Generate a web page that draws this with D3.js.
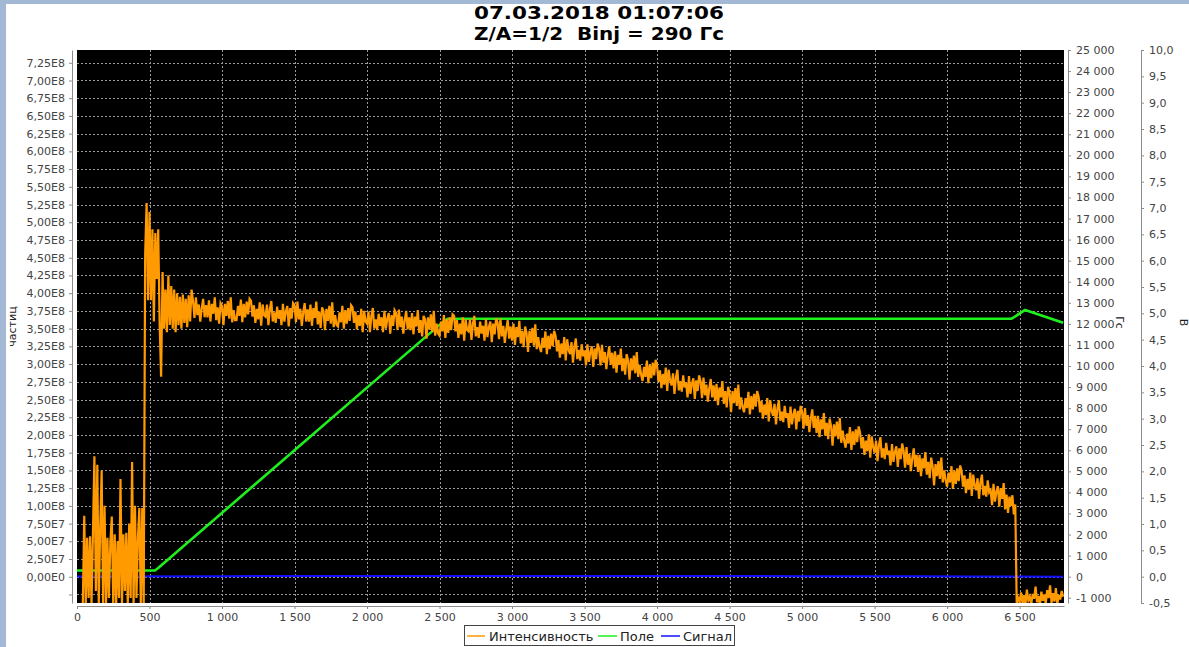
<!DOCTYPE html>
<html>
<head>
<meta charset="utf-8">
<script src="https://cdn.jsdelivr.net/npm/d3@7"></script>
<style>
  html, body { margin: 0; padding: 0; background: #fff; }
  svg { display: block; }
  text { font-family: "DejaVu Sans", sans-serif; }
</style>
</head>
<body>
<svg id="chart" width="1189" height="647"></svg>
<script>
// ---- Chart text ----
const titleLines = ["07.03.2018 01:07:06", "Z/A=1/2  Binj = 290 Гс"];
const seriesNames = ["Интенсивность", "Поле", "Сигнал"];
const seriesColors = ["#ff9a00", "#1ef01e", "#1010ff"];
const axisTitles = ["частиц", "Гс", "В"];

// ---- Ticks ----
const xTicks = [0, 500, 1000, 1500, 2000, 2500, 3000, 3500, 4000, 4500, 5000, 5500, 6000, 6500];
const xTickLabels = ["0", "500", "1 000", "1 500", "2 000", "2 500", "3 000", "3 500", "4 000", "4 500", "5 000", "5 500", "6 000", "6 500"];

// particle count ticks, in units of 1E8
const countTicks = [-0.25, 0, 0.25, 0.5, 0.75, 1, 1.25, 1.5, 1.75, 2, 2.25, 2.5, 2.75, 3, 3.25, 3.5, 3.75, 4, 4.25, 4.5, 4.75, 5, 5.25, 5.5, 5.75, 6, 6.25, 6.5, 6.75, 7, 7.25];
const countTickLabels = ["", "0,00E0", "2,50E7", "5,00E7", "7,50E7", "1,00E8", "1,25E8", "1,50E8", "1,75E8", "2,00E8", "2,25E8", "2,50E8", "2,75E8", "3,00E8", "3,25E8", "3,50E8", "3,75E8", "4,00E8", "4,25E8", "4,50E8", "4,75E8", "5,00E8", "5,25E8", "5,50E8", "5,75E8", "6,00E8", "6,25E8", "6,50E8", "6,75E8", "7,00E8", "7,25E8"];

const fieldTicks = [-1000, 0, 1000, 2000, 3000, 4000, 5000, 6000, 7000, 8000, 9000, 10000, 11000, 12000, 13000, 14000, 15000, 16000, 17000, 18000, 19000, 20000, 21000, 22000, 23000, 24000, 25000];
const fieldTickLabels = ["-1 000", "0", "1 000", "2 000", "3 000", "4 000", "5 000", "6 000", "7 000", "8 000", "9 000", "10 000", "11 000", "12 000", "13 000", "14 000", "15 000", "16 000", "17 000", "18 000", "19 000", "20 000", "21 000", "22 000", "23 000", "24 000", "25 000"];

const signalTicks = [-0.5, 0, 0.5, 1, 1.5, 2, 2.5, 3, 3.5, 4, 4.5, 5, 5.5, 6, 6.5, 7, 7.5, 8, 8.5, 9, 9.5, 10];
const signalTickLabels = ["-0,5", "0,0", "0,5", "1,0", "1,5", "2,0", "2,5", "3,0", "3,5", "4,0", "4,5", "5,0", "5,5", "6,0", "6,5", "7,0", "7,5", "8,0", "8,5", "9,0", "9,5", "10,0"];

// ---- Series ----
// Intensity (units of 1E8 particles), one sample every 10 time units starting at 0
const intensityStep = 10;
const intensity = [
  null, null, null, null, -0.4, 0.86, -0.4, 0.55, -0.3, 0.57,
  -0.4, 0.62, 1.7, -0.2, 1.58, -0.4, 0.7, 1.5, -0.4, 1.0,
  -0.4, 0.55, -0.3, 0.48, 0.85, -0.4, 0.6, -0.4, 0.5, -0.3,
  1.38, -0.4, 0.6, -0.2, 0.62, -0.4, 0.75, -0.3, 1.62, -0.4,
  1.0, -0.3, 0.55, 0.97, -0.4, 0.97, -0.4, 4.55, 5.27, 3.9,
  5.15, 3.9, 4.9, 3.6, 4.85, 4.2, 4.9, 3.55, 2.82, 4.3,
  3.5, 4.05, 3.45, 4.25, 3.55, 4.1, 3.5, 4.05, 3.45, 4.0,
  3.55, 3.95, 3.5, 3.98, 3.58, 3.92, 3.52, 3.97, 3.6, 4.05,
  3.89, 3.65, 3.94, 3.69, 3.84, 3.60, 3.79, 3.92, 3.66, 3.83,
  3.66, 3.90, 3.60, 3.85, 3.71, 3.94, 3.62, 3.80, 3.57, 3.86,
  3.82, 3.55, 3.85, 3.68, 3.89, 3.64, 3.94, 3.59, 3.76, 3.62,
  3.62, 3.82, 3.68, 3.91, 3.59, 3.85, 3.66, 3.88, 3.70, 3.92,
  3.89, 3.67, 3.83, 3.58, 3.78, 3.63, 3.87, 3.54, 3.84, 3.69,
  3.67, 3.84, 3.55, 3.78, 3.89, 3.60, 3.73, 3.58, 3.81, 3.64,
  3.76, 3.55, 3.85, 3.60, 3.74, 3.82, 3.53, 3.79, 3.64, 3.86,
  3.83, 3.59, 3.88, 3.63, 3.78, 3.54, 3.73, 3.86, 3.60, 3.77,
  3.60, 3.84, 3.54, 3.79, 3.65, 3.88, 3.56, 3.74, 3.51, 3.80,
  3.75, 3.48, 3.78, 3.61, 3.82, 3.57, 3.87, 3.52, 3.69, 3.55,
  3.53, 3.73, 3.59, 3.82, 3.50, 3.76, 3.57, 3.79, 3.61, 3.83,
  3.80, 3.58, 3.74, 3.49, 3.69, 3.54, 3.78, 3.45, 3.75, 3.60,
  3.57, 3.74, 3.45, 3.68, 3.79, 3.50, 3.63, 3.48, 3.71, 3.54,
  3.66, 3.45, 3.75, 3.50, 3.64, 3.72, 3.43, 3.69, 3.54, 3.76,
  3.72, 3.48, 3.77, 3.52, 3.67, 3.43, 3.62, 3.75, 3.49, 3.66,
  3.48, 3.72, 3.42, 3.67, 3.53, 3.76, 3.44, 3.62, 3.39, 3.68,
  3.63, 3.36, 3.66, 3.49, 3.70, 3.45, 3.75, 3.40, 3.57, 3.43,
  3.40, 3.60, 3.46, 3.69, 3.37, 3.63, 3.44, 3.66, 3.48, 3.70,
  3.68, 3.46, 3.62, 3.37, 3.57, 3.42, 3.66, 3.33, 3.63, 3.48,
  3.46, 3.63, 3.34, 3.57, 3.68, 3.39, 3.52, 3.37, 3.60, 3.43,
  3.54, 3.33, 3.63, 3.38, 3.52, 3.60, 3.31, 3.57, 3.42, 3.64,
  3.59, 3.35, 3.64, 3.39, 3.54, 3.30, 3.49, 3.62, 3.36, 3.53,
  3.33, 3.57, 3.27, 3.52, 3.38, 3.61, 3.29, 3.47, 3.24, 3.53,
  3.44, 3.17, 3.47, 3.30, 3.51, 3.26, 3.56, 3.21, 3.38, 3.24,
  3.17, 3.37, 3.23, 3.46, 3.14, 3.40, 3.21, 3.43, 3.25, 3.47,
  3.40, 3.18, 3.34, 3.09, 3.29, 3.14, 3.38, 3.05, 3.35, 3.20,
  3.14, 3.31, 3.02, 3.25, 3.36, 3.07, 3.20, 3.05, 3.28, 3.11,
  3.19, 2.98, 3.28, 3.03, 3.17, 3.25, 2.96, 3.22, 3.07, 3.29,
  3.22, 2.98, 3.27, 3.02, 3.17, 2.93, 3.12, 3.25, 2.99, 3.16,
  2.94, 3.18, 2.88, 3.13, 2.99, 3.22, 2.90, 3.08, 2.85, 3.14,
  3.05, 2.78, 3.08, 2.91, 3.12, 2.87, 3.17, 2.82, 2.99, 2.85,
  2.76, 2.96, 2.82, 3.05, 2.73, 2.99, 2.80, 3.02, 2.84, 3.06,
  2.97, 2.75, 2.91, 2.66, 2.86, 2.71, 2.95, 2.62, 2.92, 2.77,
  2.70, 2.87, 2.58, 2.81, 2.92, 2.63, 2.76, 2.61, 2.84, 2.67,
  2.74, 2.53, 2.83, 2.58, 2.72, 2.80, 2.51, 2.77, 2.62, 2.84,
  2.76, 2.52, 2.81, 2.56, 2.71, 2.47, 2.66, 2.79, 2.53, 2.70,
  2.48, 2.72, 2.42, 2.67, 2.53, 2.76, 2.44, 2.62, 2.39, 2.68,
  2.59, 2.32, 2.62, 2.45, 2.66, 2.41, 2.71, 2.36, 2.53, 2.39,
  2.32, 2.52, 2.38, 2.61, 2.29, 2.55, 2.36, 2.58, 2.40, 2.62,
  2.54, 2.32, 2.48, 2.23, 2.43, 2.28, 2.52, 2.19, 2.49, 2.34,
  2.27, 2.44, 2.15, 2.38, 2.49, 2.20, 2.33, 2.18, 2.41, 2.24,
  2.31, 2.10, 2.40, 2.15, 2.29, 2.37, 2.08, 2.34, 2.19, 2.41,
  2.33, 2.09, 2.38, 2.13, 2.28, 2.04, 2.23, 2.36, 2.10, 2.27,
  2.03, 2.27, 1.97, 2.22, 2.08, 2.31, 1.99, 2.17, 1.94, 2.23,
  2.12, 1.85, 2.15, 1.98, 2.19, 1.94, 2.24, 1.89, 2.06, 1.92,
  1.82, 2.02, 1.88, 2.11, 1.79, 2.05, 1.86, 2.08, 1.90, 2.12,
  2.03, 1.81, 1.97, 1.72, 1.92, 1.77, 2.01, 1.68, 1.98, 1.83,
  1.75, 1.92, 1.63, 1.86, 1.97, 1.68, 1.81, 1.66, 1.89, 1.72,
  1.78, 1.57, 1.87, 1.62, 1.76, 1.84, 1.55, 1.81, 1.66, 1.88,
  1.78, 1.54, 1.83, 1.58, 1.73, 1.49, 1.68, 1.81, 1.55, 1.72,
  1.48, 1.72, 1.42, 1.67, 1.53, 1.76, 1.44, 1.62, 1.39, 1.68,
  1.56, 1.29, 1.59, 1.42, 1.63, 1.38, 1.68, 1.33, 1.50, 1.36,
  1.27, 1.47, 1.33, 1.56, 1.24, 1.50, 1.31, 1.53, 1.35, 1.57,
  1.49, 1.27, 1.43, 1.18, 1.38, 1.23, 1.47, 1.14, 1.44, 1.29,
  1.22, 1.39, 1.10, 1.33, 1.44, 1.15, 1.28, 1.13, 1.36, 1.19,
  1.22, 1.01, 1.31, 1.06, 1.20, 1.28, 0.99, 1.25, 1.10, 1.32,
  0.95, 1.16, 0.90, 1.13, 1.00, 1.15, 0.88, 1.02, -0.40, -0.30,
  -0.35, -0.22, -0.38, -0.26, -0.40, -0.18, -0.33, -0.28, -0.39, -0.24,
  -0.31, -0.14, -0.36, -0.27, -0.40, -0.21, -0.34, -0.25, -0.38, -0.19,
  -0.30, -0.12, -0.37, -0.23, -0.35, -0.16, -0.39, -0.26, -0.32, -0.20,
  -0.28
];
const intensityUnit = 1e8;

// Magnetic field, Гс
const fieldTime = [0, 520, 537, 560, 2530, 2556, 6440, 6455, 6538, 6800];
const fieldValue = [290, 290, 296, 410, 12130, 12240, 12240, 12290, 12660, 12050];

// Signal, В
const signalTime = [0, 1000, 2000, 3000, 4000, 5000, 5800, 6200, 6800];
const signalValue = [0.005, 0.01, 0.012, 0.012, 0.012, 0.01, 0.008, 0.003, 0.0];

// ---- Layout ----
const W = 1189, H = 647;
const plot = { left: 77, top: 50, right: 1064, bottom: 603 };
const leftAxisX = 72, bottomAxisY = 606, fieldAxisX = 1068, signalAxisX = 1141;

const svg = d3.select("#chart");

// window frame
svg.append("rect").attr("width", W).attr("height", H).attr("fill", "#ffffff");
svg.append("rect").attr("x", 0).attr("y", 0).attr("width", W).attr("height", 4).attr("fill", "#a3b8d5");
svg.append("rect").attr("x", 0).attr("y", 0).attr("width", 6).attr("height", H).attr("fill", "#a3b8d5");

// ---- Scales ----
const x = d3.scaleLinear().domain([0, 6806]).range([plot.left, plot.right]);
const yCount = d3.scaleLinear().domain([-0.37e8, 7.43e8]).range([plot.bottom, plot.top]);
const yField = d3.scaleLinear().domain([-1250, 25000]).range([plot.bottom, plot.top]);
const ySignal = d3.scaleLinear().domain([-0.5, 10]).range([plot.bottom, plot.top]);

// plot background
svg.append("rect")
  .attr("x", plot.left).attr("y", plot.top)
  .attr("width", plot.right - plot.left).attr("height", plot.bottom - plot.top)
  .attr("fill", "#000000");

svg.append("clipPath").attr("id", "plotClip")
  .append("rect")
  .attr("x", plot.left).attr("y", plot.top)
  .attr("width", plot.right - plot.left).attr("height", plot.bottom - plot.top);

// dashed grid
const grid = svg.append("g").attr("stroke", "#9a9a9a").attr("stroke-width", 1).attr("stroke-dasharray", "2,2");
grid.selectAll("line.h").data(countTicks).join("line").attr("class", "h")
  .attr("x1", plot.left).attr("x2", plot.right)
  .attr("y1", d => Math.round(yCount(d * intensityUnit)) + 0.5)
  .attr("y2", d => Math.round(yCount(d * intensityUnit)) + 0.5);
grid.selectAll("line.v").data(xTicks.filter(d => d > 0)).join("line").attr("class", "v")
  .attr("y1", plot.top).attr("y2", plot.bottom)
  .attr("x1", d => Math.round(x(d)) + 0.5)
  .attr("x2", d => Math.round(x(d)) + 0.5);

// ---- Series ----
const series = svg.append("g").attr("clip-path", "url(#plotClip)");

const fieldPts = fieldTime.map((t, i) => [t, fieldValue[i]]);
series.append("path").datum(fieldPts)
  .attr("fill", "none").attr("stroke", seriesColors[1]).attr("stroke-width", 2.6)
  .attr("stroke-linejoin", "round")
  .attr("d", d3.line().x(d => x(d[0])).y(d => yField(d[1])));

const signalPts = signalTime.map((t, i) => [t, signalValue[i]]);
series.append("path").datum(signalPts)
  .attr("fill", "none").attr("stroke", seriesColors[2]).attr("stroke-width", 2)
  .attr("d", d3.line().x(d => x(d[0])).y(d => ySignal(d[1])));

const intensityPts = intensity.map((v, i) => [i * intensityStep, v]);
series.append("path").datum(intensityPts)
  .attr("fill", "none").attr("stroke", seriesColors[0]).attr("stroke-width", 2.2)
  .attr("stroke-linejoin", "miter")
  .attr("d", d3.line()
    .defined(d => d[1] !== null)
    .x(d => x(d[0]))
    .y(d => yCount(d[1] * intensityUnit)));

// ---- Axes ----
function styleAxis(g) {
  g.select(".domain").attr("stroke", "#8c8c8c");
  g.selectAll(".tick line").attr("stroke", "#8c8c8c");
  g.selectAll(".tick text").attr("fill", "#444").attr("font-size", 11)
    .attr("font-family", "'DejaVu Sans', sans-serif");
}

svg.append("g").attr("transform", `translate(${leftAxisX},0)`)
  .call(d3.axisLeft(yCount)
    .tickValues(countTicks.map(d => d * intensityUnit))
    .tickFormat((d, i) => countTickLabels[i])
    .tickSizeInner(3).tickSizeOuter(0).tickPadding(4))
  .call(styleAxis);

svg.append("g").attr("transform", `translate(0,${bottomAxisY})`)
  .call(d3.axisBottom(x)
    .tickValues(xTicks)
    .tickFormat((d, i) => xTickLabels[i])
    .tickSizeInner(3).tickSizeOuter(0).tickPadding(4))
  .call(styleAxis);

svg.append("g").attr("transform", `translate(${fieldAxisX},0)`)
  .call(d3.axisRight(yField)
    .tickValues(fieldTicks)
    .tickFormat((d, i) => fieldTickLabels[i])
    .tickSizeInner(3).tickSizeOuter(0).tickPadding(5))
  .call(styleAxis);

svg.append("g").attr("transform", `translate(${signalAxisX},0)`)
  .call(d3.axisRight(ySignal)
    .tickValues(signalTicks)
    .tickFormat((d, i) => signalTickLabels[i])
    .tickSizeInner(3).tickSizeOuter(0).tickPadding(5))
  .call(styleAxis);

// axis titles
const midY = (plot.top + plot.bottom) / 2;
svg.append("text").attr("transform", `translate(16,${midY}) rotate(-90)`)
  .attr("text-anchor", "middle").attr("font-size", 11).attr("fill", "#222")
  .text(axisTitles[0]);
svg.append("text").attr("transform", `translate(1116,${midY - 4}) rotate(90)`)
  .attr("text-anchor", "middle").attr("font-size", 11).attr("fill", "#222")
  .text(axisTitles[1]);
svg.append("text").attr("transform", `translate(1180,${midY - 4}) rotate(90)`)
  .attr("text-anchor", "middle").attr("font-size", 11).attr("fill", "#222")
  .text(axisTitles[2]);

// ---- Title ----
svg.selectAll("text.title").data(titleLines).join("text").attr("class", "title")
  .attr("x", 599).attr("y", (d, i) => 19 + i * 21)
  .attr("text-anchor", "middle").attr("font-size", 17).attr("font-weight", "bold").attr("fill", "#000")
  .style("white-space", "pre")
  .attr("textLength", 250).attr("lengthAdjust", "spacingAndGlyphs")
  .text(d => d);

// ---- Legend ----
const legend = svg.append("g");
legend.append("rect").attr("x", 464.5).attr("y", 625.5).attr("width", 270).attr("height", 20)
  .attr("fill", "#fff").attr("stroke", "#444");
const legendItems = [
  { x: 467, w: 18, tx: 489 },
  { x: 598, w: 19, tx: 620 },
  { x: 661, w: 19, tx: 683 }
];
legend.selectAll("line").data(legendItems).join("line")
  .attr("x1", d => d.x).attr("x2", d => d.x + d.w)
  .attr("y1", 636).attr("y2", 636)
  .attr("stroke", (d, i) => seriesColors[i]).attr("stroke-width", 1.5);
legend.selectAll("text").data(legendItems).join("text")
  .attr("x", d => d.tx).attr("y", 641)
  .attr("font-size", 13).attr("fill", "#222")
  .text((d, i) => seriesNames[i]);
</script>
</body>
</html>
